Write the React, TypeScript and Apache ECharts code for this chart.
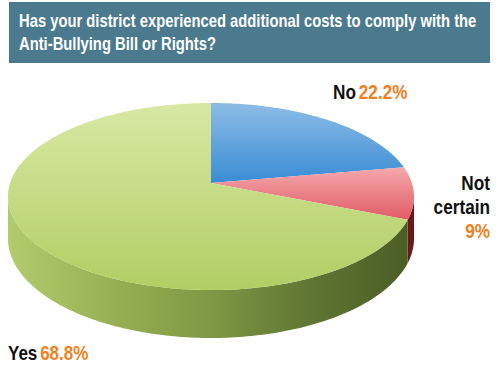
import React, { useEffect, useRef } from "react";
import * as echarts from "echarts";

const titleLines = [
  "Has your district experienced additional costs to comply with the",
  "Anti-Bullying Bill or Rights?",
];
const categories = ["No", "Not certain", "Yes"];
const values = [22.2, 9, 68.8];
const topColors = [
  ["#8dbce6", "#3a8cd3"],
  ["#f4a8ac", "#e05c65"],
  ["#d8e8a4", "#b1ce64"],
];
const sideColors = [
  ["#3a7cc0", "#2a5f98"],
  ["#9a3030", "#6a1818"],
  ["#b2cb6c", "#98b154", "#7e9844", "#5f7533", "#4a5c25"],
];

const CX = 211, CY = 183, A = 91.6, B = 200.9, K = 0.1444, D = 41;
const FONT = "'Liberation Sans', Arial, sans-serif";

function proj(theta: number, drop: number): number[] {
  const u = Math.sin(theta);
  const v = -Math.cos(theta);
  const w = 1 - K * v;
  return [CX + (B * u) / w, CY + (A * v) / w + (drop * D) / w];
}

function arcPts(a0: number, a1: number, drop: number): number[][] {
  const n = Math.max(2, Math.ceil(((a1 - a0) * 180) / Math.PI));
  const pts: number[][] = [];
  for (let i = 0; i <= n; i++) pts.push(proj(a0 + ((a1 - a0) * i) / n, drop));
  return pts;
}

const total = values.reduce((s, v) => s + v, 0);
const starts: number[] = [];
{
  let acc = 0;
  for (const v of values) {
    starts.push((acc / total) * Math.PI * 2);
    acc += v;
  }
}

function gradStops(cols: string[]) {
  return cols.map((c, i) => ({ offset: cols.length === 1 ? 0 : i / (cols.length - 1), color: c }));
}

export default function App() {
  const ref = useRef<HTMLDivElement>(null);
  useEffect(() => {
    const chart = echarts.init(ref.current!, null, { renderer: "svg" });
    const visStart = Math.acos(-K);
    const visEnd = Math.PI * 2 - visStart;

    const labelRich = {
      n: { fontFamily: FONT, fontWeight: "bold", fontSize: 20, fill: "#111" },
      v: { fontFamily: FONT, fontWeight: "bold", fontSize: 20, fill: "#f07f22" },
    };
    const fmt = (i: number) => `${values[i]}%`;

    const titleStyle = (t: string) => ({
      text: t,
      fontFamily: FONT,
      fontWeight: "bold",
      fontSize: 17.5,
      fill: "#fff",
      verticalAlign: "middle",
    });

    chart.setOption({
      animation: false,
      series: [
        {
          type: "custom",
          coordinateSystem: "none",
          z: 1,
          data: values,
          renderItem: (params: any) => {
            const i = params.dataIndex;
            const a0 = starts[i];
            const a1 = a0 + (values[i] / total) * Math.PI * 2;
            const s = Math.max(a0, visStart);
            const e = Math.min(a1, visEnd);
            if (e <= s) return { type: "group", children: [] };
            const top = arcPts(s, e, 0);
            const bot = arcPts(s, e, 1).reverse();
            return {
              type: "polygon",
              shape: { points: top.concat(bot) },
              style: {
                fill: new echarts.graphic.LinearGradient(8, 0, 414, 0, gradStops(sideColors[i]), true),
              },
            };
          },
        },
        {
          type: "custom",
          coordinateSystem: "none",
          z: 2,
          data: values,
          renderItem: (params: any) => {
            const i = params.dataIndex;
            const a0 = starts[i];
            const a1 = a0 + (values[i] / total) * Math.PI * 2;
            const pts = [[CX, CY]].concat(arcPts(a0, a1, 0));
            return {
              type: "polygon",
              shape: { points: pts },
              style: {
                fill: new echarts.graphic.LinearGradient(0, 0, 0, 1, gradStops(topColors[i])),
              },
            };
          },
        },
      ],
      graphic: [
        {
          type: "rect",
          shape: { x: 9, y: 2, width: 481, height: 61 },
          style: { fill: "#4b7a8f" },
        },
        { type: "text", x: 19, y: 21, scaleX: 0.845, style: titleStyle(titleLines[0]) },
        { type: "text", x: 19, y: 44, scaleX: 0.845, style: titleStyle(titleLines[1]) },
        {
          type: "text",
          x: 333,
          y: 92,
          scaleX: 0.86,
          style: {
            text: `{n|${categories[0]}} {v|${fmt(0)}}`,
            rich: labelRich,
            verticalAlign: "middle",
          },
        },
        {
          type: "text",
          x: 490,
          y: 207,
          scaleX: 0.86,
          style: {
            text: `{n|${categories[1].split(" ").join("}\n{n|")}}\n{v|${fmt(1)}}`,
            rich: {
              n: { ...labelRich.n, lineHeight: 24 },
              v: { ...labelRich.v, lineHeight: 24 },
            },
            align: "right",
            verticalAlign: "middle",
          },
        },
        {
          type: "text",
          x: 8,
          y: 353,
          scaleX: 0.85,
          style: {
            text: `{n|${categories[2]}} {v|${fmt(2)}}`,
            rich: labelRich,
            verticalAlign: "middle",
          },
        },
      ],
    });
    return () => chart.dispose();
  }, []);
  return <div ref={ref} style={{ width: 500, height: 377, position: "absolute", left: 0, top: 0 }} />;
}
